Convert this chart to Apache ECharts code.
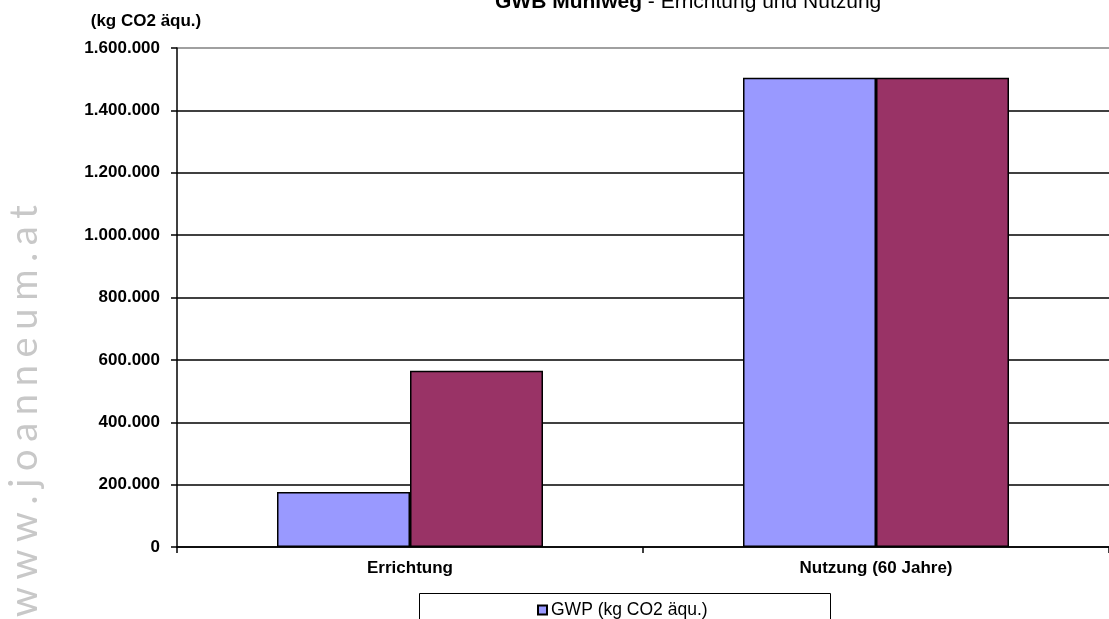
<!DOCTYPE html>
<html>
<head>
<meta charset="utf-8">
<script src="https://cdn.jsdelivr.net/npm/echarts@6/dist/echarts.min.js"></script>
<style>
html,body{margin:0;padding:0;background:#fff;}
#chart{width:1109px;height:619px;}
</style>
</head>
<body>
<div id="chart"></div>
<script>
const categories = ['Errichtung', 'Nutzung (60 Jahre)'];
const seriesNames = ['GWP (kg CO2 äqu.)', 'Serie 2'];
const gwpValues = [176000, 1505000];
const series2Values = [565000, 1505000];
const yTicks = [0, 200000, 400000, 600000, 800000, 1000000, 1200000, 1400000, 1600000];

const chart = echarts.init(document.getElementById('chart'), null, {renderer: 'canvas'});
const fmt = v => String(v).replace(/\B(?=(\d{3})+(?!\d))/g, '.');
const axisFont = {fontFamily: 'Liberation Sans', fontSize: 17, fontWeight: 'bold', color: '#000'};

const watermark = 'www.joanneum.at'.split('').join('{s| }');

chart.setOption({
  backgroundColor: '#fff',
  animation: false,
  title: {
    left: 490,
    top: -13,
    text: '{b|GWB Mühlweg}{n| - Errichtung und Nutzung}',
    textStyle: {
      rich: {
        b: {fontFamily: 'Liberation Sans', fontSize: 21, fontWeight: 'bold', color: '#000'},
        n: {fontFamily: 'Liberation Sans', fontSize: 21, fontWeight: 'normal', color: '#000'}
      }
    }
  },
  grid: {left: 177, top: 48, right: 0, bottom: 72, containLabel: false},
  legend: {
    data: [seriesNames[0]],
    left: 537,
    top: 601,
    padding: 0,
    itemWidth: 9,
    itemHeight: 9,
    itemGap: 4,
    icon: 'rect',
    textStyle: {fontFamily: 'Liberation Sans', fontSize: 17.5, color: '#000', padding: [0,0,0,-1]}
  },
  xAxis: {
    type: 'category',
    data: categories,
    axisLine: {lineStyle: {color: '#000', width: 1.5}},
    axisTick: {show: true, alignWithLabel: false, length: 6, lineStyle: {color: '#000', width: 1.5}},
    axisLabel: Object.assign({margin: 13}, axisFont)
  },
  yAxis: {
    type: 'value',
    min: 0,
    max: 1600000,
    interval: 200000,
    name: '(kg CO2 äqu.)',
    nameLocation: 'end',
    nameGap: 27,
    nameTextStyle: Object.assign({align: 'center', verticalAlign: 'middle', padding: [0, 62, 0, 0]}, axisFont),
    axisLine: {show: true, lineStyle: {color: '#000', width: 1.5}},
    axisTick: {show: true, length: 6, lineStyle: {color: '#000', width: 1.5}},
    axisLabel: Object.assign({margin: 17, padding: [0, 0, 6, 0], formatter: v => fmt(v)}, axisFont),
    splitLine: {show: true, lineStyle: {color: ['#000','#000','#000','#000','#000','#000','#000','#000','#808080'], width: 1.5}}
  },
  graphic: [
    {
      type: 'rect',
      shape: {x: 419.5, y: 593.5, width: 411, height: 60},
      style: {fill: '#fff', stroke: '#000', lineWidth: 1},
      z: 0
    },
    {
      type: 'text',
      x: 25,
      y: 617,
      rotation: Math.PI / 2,
      style: {
        text: watermark,
        font: '38px Lato',
        fill: '#c8c8c8',
        textAlign: 'left',
        textVerticalAlign: 'middle',
        rich: {
          s: {fontSize: 30, fontFamily: 'Lato'}
        }
      },
      z: 0
    }
  ],
  series: [
    {
      name: seriesNames[0],
      type: 'bar',
      data: gwpValues,
      barWidth: 133,
      barGap: '0%',
      itemStyle: {color: '#9999FF', borderColor: '#000', borderWidth: 1.5}
    },
    {
      name: seriesNames[1],
      type: 'bar',
      data: series2Values,
      barWidth: 133,
      barGap: '0%',
      itemStyle: {color: '#993366', borderColor: '#000', borderWidth: 1.5}
    }
  ]
});
</script>
</body>
</html>
